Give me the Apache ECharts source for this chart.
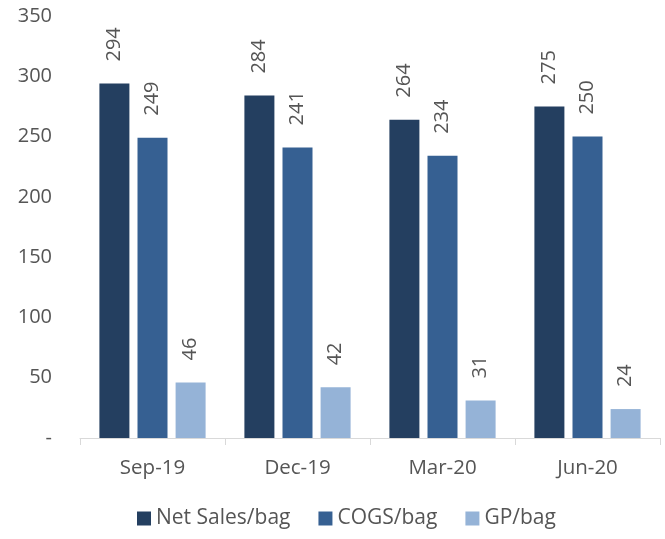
<!DOCTYPE html>
<html><head><meta charset="utf-8">
<script src="https://cdn.jsdelivr.net/npm/echarts@6/dist/echarts.min.js"></script>
<style>html,body{margin:0;padding:0;background:#fff}#c{width:665px;height:539px}</style>
</head><body><div id="c"></div>
<script>
const categories = ['Sep-19', 'Dec-19', 'Mar-20', 'Jun-20'];
const netSales = [294, 284, 264, 275];
const cogs = [249, 241, 234, 250];
const gp = [46, 42, 31, 24];
const seriesNames = ['Net Sales/bag', 'COGS/bag', 'GP/bag'];
const colors = ['#243F60', '#366092', '#95B3D7'];
const font = '"Open Sans", sans-serif';
const textColor = '#555555';

const chart = echarts.init(document.getElementById('c'), null, {renderer: 'canvas'});
const mk = (name, data, color) => ({
  name, type: 'bar', data, barWidth: 30, barGap: '27%',
  itemStyle: {color},
  label: {
    show: true, position: 'top', rotate: 90, distance: 22,
    align: 'left', verticalAlign: 'middle',
    color: textColor, fontFamily: font, fontSize: 20
  }
});
chart.setOption({
  animation: false,
  textStyle: {fontFamily: font},
  grid: {left: 80, right: 5, top: 16, bottom: 101, containLabel: false},
  legend: {
    bottom: 5, left: 132, itemWidth: 14, itemHeight: 14, itemGap: 28,
    icon: 'rect',
    textStyle: {color: textColor, fontFamily: font, fontSize: 21}
  },
  xAxis: {
    type: 'category', data: categories,
    axisLine: {lineStyle: {color: '#D9D9D9', width: 1}},
    axisTick: {show: true, length: 7, lineStyle: {color: '#D9D9D9'}},
    axisLabel: {color: textColor, fontFamily: font, fontSize: 20.5, margin: 20}
  },
  yAxis: {
    type: 'value', min: 0, max: 350, interval: 50,
    splitLine: {show: false}, axisLine: {show: false}, axisTick: {show: false},
    axisLabel: {color: textColor, fontFamily: font, fontSize: 20, margin: 28,
      formatter: v => v === 0 ? '-' : String(v)}
  },
  series: [mk(seriesNames[0], netSales, colors[0]), mk(seriesNames[1], cogs, colors[1]), mk(seriesNames[2], gp, colors[2])]
});
</script></body></html>
